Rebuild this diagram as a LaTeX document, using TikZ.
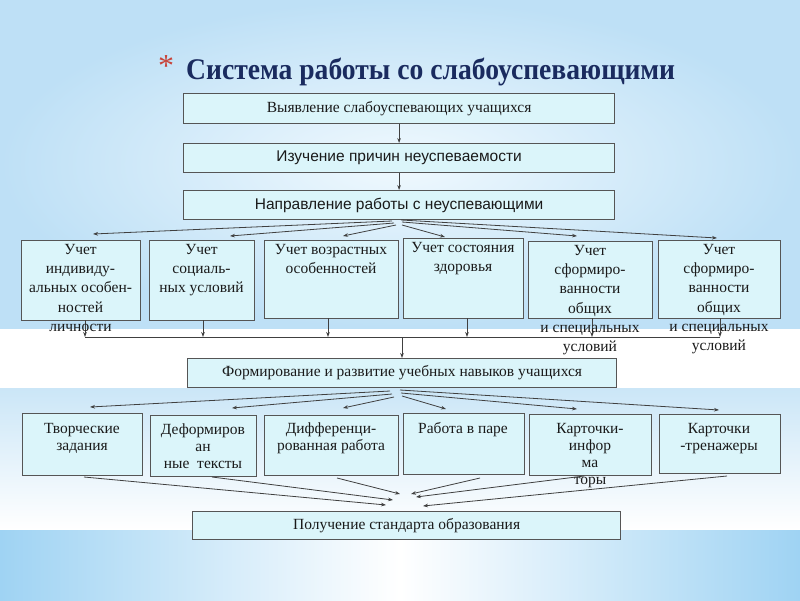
\documentclass[tikz,border=0pt]{standalone}
\usepackage{fontspec}
\setmainfont{Liberation Serif}
\newfontfamily\sansf{Liberation Sans}
\usetikzlibrary{arrows.meta}
\definecolor{boxfill}{HTML}{DBF5FA}
\definecolor{boxline}{HTML}{555555}
\definecolor{arrowc}{HTML}{404040}
\definecolor{navy}{HTML}{1A2B5F}
\definecolor{starred}{HTML}{C8443A}
\definecolor{bgouter}{HTML}{BEE0F6}
\definecolor{bginner}{HTML}{F0F9FE}
\definecolor{bgband}{HTML}{CBE6F7}
\definecolor{bgedge}{HTML}{9FD3F3}
\definecolor{txt}{HTML}{1A1A1A}
\tikzset{
  box/.style={draw=boxline, line width=1.2pt, fill=boxfill, inner sep=0pt, anchor=north west, text=txt},
  lblone/.style={font=\fontsize{15.5}{19.3}\selectfont, align=center, inner sep=0pt, anchor=north, text=txt},
  lbltwo/.style={font=\fontsize{15.5}{17}\selectfont, align=center, inner sep=0pt, anchor=north, text=txt},
  serifbox/.style={font=\fontsize{15.5}{18}\selectfont},
  sansbox/.style={font=\sansf\fontsize{15.5}{18}\selectfont},
  arr/.style={draw=arrowc, line width=0.8pt, -{Stealth[length=5pt,width=3.6pt]}},
  plain/.style={draw=arrowc, line width=0.8pt},
}
\begin{document}
\begin{tikzpicture}[x=1pt,y=-1pt]
\useasboundingbox (0,0) rectangle (800,600);
% background
\fill[white] (0,0) rectangle (800,600);
\shade[inner color=bginner, outer color=bgouter] (0,0) rectangle (800,328);
\shade[top color=bgband, bottom color=white] (0,388) rectangle (800,530);
\shade[left color=bgedge, right color=bgedge, middle color=white] (0,530) rectangle (800,600);

% title
\node[anchor=center, inner sep=0pt, text=starred, font=\fontsize{32}{32}\selectfont] (star) at (166,66) {*};
\node[anchor=base west, inner sep=0pt, text=navy, font=\fontsize{30}{36}\selectfont\bfseries] (title) at (186,79) {\scalebox{0.92}[1]{Система работы со слабоуспевающими}};

% top chain
\node[box, serifbox, minimum width=431pt, minimum height=30pt] (b1) at (183,93) {Выявление слабоуспевающих учащихся};
\node[box, sansbox, minimum width=431pt, minimum height=29pt] (b2) at (183,143) {Изучение причин неуспеваемости};
\node[box, sansbox, minimum width=431pt, minimum height=29pt] (b3) at (183,190) {Направление работы с неуспевающими};
\draw[arr] (b1.south) -- (b2.north);
\draw[arr] (b2.south) -- (b3.north);

% row 1 boxes
\node[box, minimum width=119pt, minimum height=80pt] (ra) at (21,240) {};
\node[box, minimum width=105pt, minimum height=80pt] (rb) at (149,240) {};
\node[box, minimum width=134pt, minimum height=78pt] (rc) at (264,240) {};
\node[box, minimum width=120pt, minimum height=80pt] (rd) at (403,238) {};
\node[box, minimum width=124pt, minimum height=77pt] (re) at (528,241) {};
\node[box, minimum width=122pt, minimum height=78pt] (rf) at (658,240) {};

% row 1 fan
\coordinate (sA) at (392,221); \coordinate (tA) at (93,234);
\coordinate (sB) at (394,223); \coordinate (tB) at (230,236);
\coordinate (sC) at (396,225); \coordinate (tC) at (343,236);
\coordinate (sD) at (402,225); \coordinate (tD) at (445,237);
\coordinate (sE) at (402,222); \coordinate (tE) at (577,236);
\coordinate (sF) at (401,220); \coordinate (tF) at (717,238);
\draw[arr] (sA) -- (tA);
\draw[arr] (sB) -- (tB);
\draw[arr] (sC) -- (tC);
\draw[arr] (sD) -- (tD);
\draw[arr] (sE) -- (tE);
\draw[arr] (sF) -- (tF);

% row 1 collector
\coordinate (dA) at (85,320);  \coordinate (lA) at (85,337);
\coordinate (dB) at (203,320); \coordinate (lB) at (203,337);
\coordinate (dC) at (328,318); \coordinate (lC) at (328,337);
\coordinate (dD) at (467,318); \coordinate (lD) at (467,337);
\coordinate (dE) at (592,318); \coordinate (lE) at (592,337);
\coordinate (dF) at (720,318); \coordinate (lF) at (720,337);
\coordinate (lM) at (402,337);
\draw[plain] (lA) -- (lF);
\draw[arr] (dA) -- (lA);
\draw[arr] (dB) -- (lB);
\draw[arr] (dC) -- (lC);
\draw[arr] (dD) -- (lD);
\draw[arr] (dE) -- (lE);
\draw[arr] (dF) -- (lF);

% row 1 labels
\node[lblone] (xa) at (80.5,244) {Учет\\индивиду-\\альных особен-\\ностей\\личности};
\node[lblone] (xb) at (201.5,244) {Учет\\социаль-\\ных условий};
\node[lblone] (xc) at (331,244) {Учет возрастных\\особенностей};
\node[lblone] (xd) at (463,242) {Учет состояния\\здоровья};
\node[lblone] (xe) at (590,245) {Учет\\сформиро-\\ванности\\общих\\и специальных\\условий};
\node[lblone] (xf) at (719,244) {Учет\\сформиро-\\ванности\\общих\\и специальных\\условий};

% middle box
\node[box, serifbox, minimum width=429pt, minimum height=29pt] (fm) at (187,358) {Формирование и развитие учебных навыков учащихся};
\draw[arr] (lM) -- (fm.north -| lM);

% row 2 boxes
\node[box, minimum width=120pt, minimum height=62pt] (ga) at (22,413) {};
\node[box, minimum width=106pt, minimum height=61pt] (gb) at (150,415) {};
\node[box, minimum width=134pt, minimum height=60pt] (gc) at (264,415) {};
\node[box, minimum width=121pt, minimum height=61pt] (gd) at (403,413) {};
\node[box, minimum width=122pt, minimum height=61pt] (ge) at (529,414) {};
\node[box, minimum width=121pt, minimum height=59pt] (gf) at (659,414) {};

% row 2 fan
\coordinate (uA) at (390,391); \coordinate (vA) at (90,407);
\coordinate (uB) at (392,394); \coordinate (vB) at (232,408);
\coordinate (uC) at (394,397); \coordinate (vC) at (343,408);
\coordinate (uD) at (402,396); \coordinate (vD) at (446,409);
\coordinate (uE) at (401,393); \coordinate (vE) at (577,409);
\coordinate (uF) at (400,390); \coordinate (vF) at (719,410);
\draw[arr] (uA) -- (vA);
\draw[arr] (uB) -- (vB);
\draw[arr] (uC) -- (vC);
\draw[arr] (uD) -- (vD);
\draw[arr] (uE) -- (vE);
\draw[arr] (uF) -- (vF);

% row 2 labels
\node[lbltwo] (ya) at (82,423) {Творческие\\задания};
\node[lbltwo] (yb) at (203,424) {Деформиров\\ан\\ные\ \ тексты};
\node[lbltwo] (yc) at (331,423) {Дифференци-\\рованная работа};
\node[lbltwo] (yd) at (463,422) {Работа в паре};
\node[lbltwo] (ye) at (590,423) {Карточки-\\инфор\\ма\\торы};
\node[lbltwo] (yf) at (719,423) {Карточки\\-тренажеры};

% final box
\node[box, serifbox, minimum width=428pt, minimum height=28pt] (fin) at (192,511) {Получение стандарта образования};

% converge
\coordinate (pA) at (84,477);  \coordinate (qA) at (386,505);
\coordinate (pB) at (212,477); \coordinate (qB) at (393,500);
\coordinate (pC) at (337,478); \coordinate (qC) at (400,494);
\coordinate (pD) at (480,478); \coordinate (qD) at (411,494);
\coordinate (pE) at (584,476); \coordinate (qE) at (416,497);
\coordinate (pF) at (727,476); \coordinate (qF) at (423,506);
\draw[arr] (pA) -- (qA);
\draw[arr] (pB) -- (qB);
\draw[arr] (pC) -- (qC);
\draw[arr] (pD) -- (qD);
\draw[arr] (pE) -- (qE);
\draw[arr] (pF) -- (qF);
\end{tikzpicture}
\end{document}
